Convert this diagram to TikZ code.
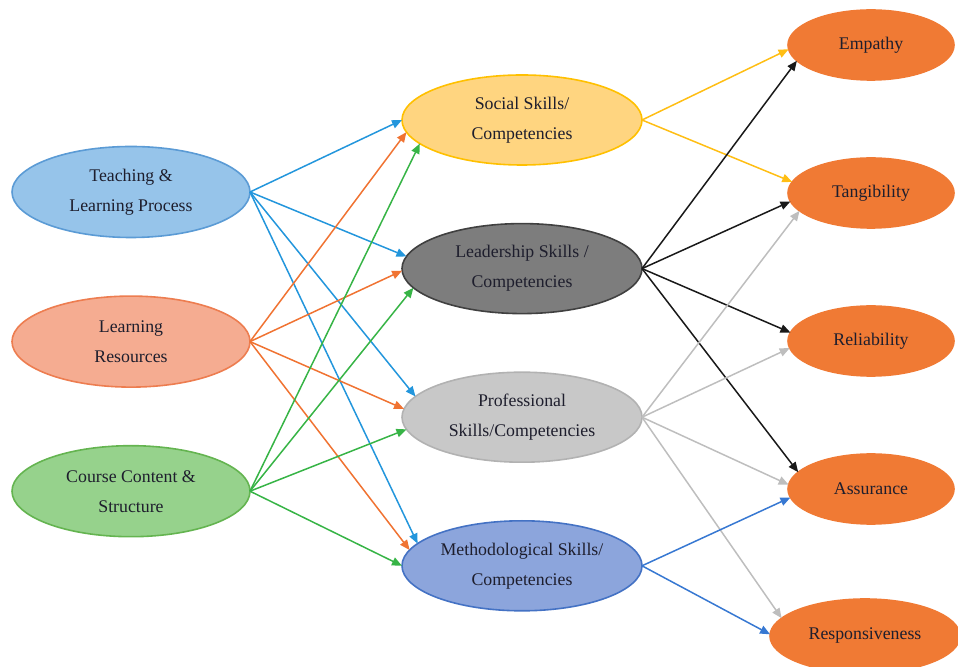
\documentclass[tikz,border=0pt]{standalone}
\usepackage{fontspec}
\setmainfont{Liberation Serif}
\usetikzlibrary{arrows.meta,positioning,shapes.geometric}

\definecolor{textcol}{RGB}{30,30,45}
\definecolor{teachfill}{RGB}{150,196,234}
\definecolor{teachline}{RGB}{91,155,213}
\definecolor{resfill}{RGB}{245,172,145}
\definecolor{resline}{RGB}{237,125,80}
\definecolor{coursefill}{RGB}{150,210,140}
\definecolor{courseline}{RGB}{100,180,80}
\definecolor{socialfill}{RGB}{255,213,128}
\definecolor{socialline}{RGB}{255,192,0}
\definecolor{leadfill}{RGB}{125,125,125}
\definecolor{leadline}{RGB}{64,64,64}
\definecolor{proffill}{RGB}{200,200,200}
\definecolor{profline}{RGB}{178,178,178}
\definecolor{methfill}{RGB}{140,165,220}
\definecolor{methline}{RGB}{68,114,196}
\definecolor{qualfill}{RGB}{240,122,52}
\definecolor{bluearrow}{RGB}{35,150,220}
\definecolor{orangearrow}{RGB}{240,115,50}
\definecolor{greenarrow}{RGB}{55,180,70}
\definecolor{yellowarrow}{RGB}{255,190,20}
\definecolor{darkarrow}{RGB}{25,25,25}
\definecolor{grayarrow}{RGB}{190,190,190}
\definecolor{metharrow}{RGB}{55,120,210}

\begin{document}
\begin{tikzpicture}[x=0.5pt, y=-0.5pt, node distance=29.3pt, line width=0.75pt, font=\fontsize{8.9}{15}\selectfont, >={Triangle[length=5pt,width=4.2pt]}, main/.style = {ellipse, draw, line width=0.8pt, align=center, inner sep=0pt, outer sep=0pt, text=textcol}, source/.style = {main, minimum width=119pt, minimum height=45.5pt}, skill/.style = {main, minimum width=120pt, minimum height=45pt}, quality/.style = {main, draw=qualfill, fill=qualfill, minimum width=83pt, minimum height=35pt}]
\useasboundingbox (0,0) rectangle (958,667);

\node[source, fill=teachfill, draw=teachline] (teaching) at (131,192) {Teaching \&\\Learning Process};
\node[source, fill=resfill, draw=resline] (resources) [below=of teaching] {Learning\\Resources};
\node[source, fill=coursefill, draw=courseline] (course) [below=of resources] {Course Content \&\\Structure};

\node[skill, fill=socialfill, draw=socialline] (social) at (522,120) {Social Skills/\\Competencies};
\node[skill, fill=leadfill, draw=leadline] (leadership) [below=of social] {Leadership Skills /\\Competencies};
\node[skill, fill=proffill, draw=profline] (professional) [below=of leadership] {Professional\\Skills/Competencies};
\node[skill, fill=methfill, draw=methline] (methodological) [below=of professional] {Methodological Skills/\\Competencies};

\node[quality] (empathy) at (871,45) {Empathy};
\node[quality] (tangibility) [below=39pt of empathy] {Tangibility};
\node[quality] (reliability) [below=39pt of tangibility] {Reliability};
\node[quality] (assurance) [below=39pt of reliability] {Assurance};
\node[quality, minimum width=95pt, minimum height=37pt] (responsiveness) [below=37.5pt of assurance, xshift=-3pt] {Responsiveness};

\draw[->, bluearrow] (teaching.east) -- (social.180);
\draw[->, bluearrow] (teaching.east) -- (leadership.174);
\draw[->, bluearrow] (teaching.east) -- (professional.169);
\draw[->, bluearrow] (teaching.east) -- (methodological.168);
\draw[->, orangearrow] (resources.east) -- (social.186);
\draw[->, orangearrow] (resources.east) -- (leadership.181);
\draw[->, orangearrow] (resources.east) -- (professional.176);
\draw[->, orangearrow] (resources.east) -- (methodological.172);
\draw[->, greenarrow] (course.east) -- (social.193);
\draw[->, greenarrow] (course.east) -- (leadership.190);
\draw[->, greenarrow] (course.east) -- (professional.186);
\draw[->, greenarrow] (course.east) -- (methodological.180);

\draw[->, yellowarrow] (social.east) -- (empathy.183);
\draw[->, yellowarrow] (social.east) -- (tangibility.172);
\draw[->, darkarrow] (leadership.east) -- (empathy.192);
\draw[->, darkarrow] (leadership.east) -- (tangibility.186);
\draw[->, darkarrow] (leadership.east) -- (reliability.174);
\draw[->, darkarrow] (leadership.east) -- (assurance.167);
\draw[->, grayarrow] (professional.east) -- (tangibility.194);
\draw[->, grayarrow] (professional.east) -- (reliability.185);
\draw[->, grayarrow] (professional.east) -- (assurance.177);
\draw[->, grayarrow] (professional.east) -- (responsiveness.168);
\draw[->, metharrow] (methodological.east) -- (assurance.186);
\draw[->, metharrow] (methodological.east) -- (responsiveness.179);
\end{tikzpicture}
\end{document}
